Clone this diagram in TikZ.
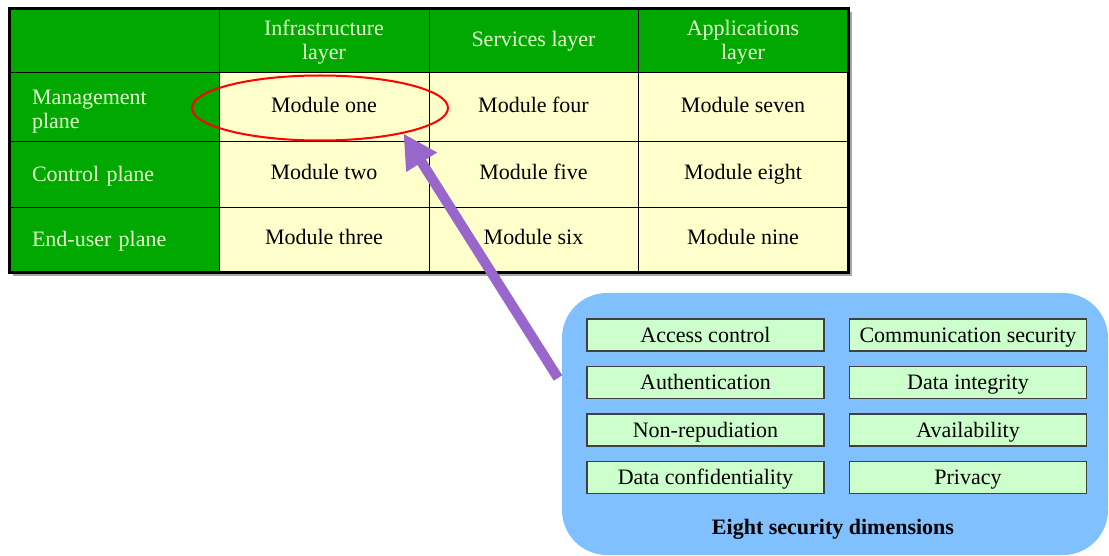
\documentclass[tikz,border=0pt]{standalone}
\usepackage{fontspec}
\setmainfont{Liberation Serif}
\usetikzlibrary{shapes.geometric,arrows.meta}
\definecolor{tgreen}{RGB}{0,168,0}
\definecolor{tyellow}{RGB}{255,255,204}
\definecolor{hdrtext}{RGB}{232,255,210}
\definecolor{dimblue}{RGB}{128,192,255}
\definecolor{dimfill}{RGB}{204,255,204}
\definecolor{dimedge}{RGB}{64,64,64}
\definecolor{arrowpurple}{RGB}{153,102,204}
\begin{document}
\begin{tikzpicture}[x=1pt,y=-1pt,
  every node/.style={font=\fontsize{22}{24}\selectfont},
  hdrcell/.style={rectangle, draw=black, line width=1pt, fill=tgreen, text=hdrtext, align=center, inner sep=0pt},
  onehdr/.style={text height=16pt, text depth=4pt},
  rowcell/.style={rectangle, draw=black, line width=1pt, fill=tgreen, text=hdrtext, align=left, text width=165pt, inner xsep=22pt, inner ysep=0pt},
  onerow/.style={text height=16pt, text depth=2pt},
  rowlabel/.style={text=hdrtext, align=left, text width=165pt, inner sep=0pt},
  datacell/.style={rectangle, draw=black, line width=1pt, fill=tyellow, text=black, align=center, inner sep=0pt, text height=15pt, text depth=5pt},
  dimbox/.style={rectangle, draw=dimedge, line width=1.5pt, fill=dimfill, minimum width=237pt, minimum height=32pt, inner sep=0pt, text height=16pt, text depth=2pt},
  hilite/.style={ellipse, draw=red, line width=2pt, minimum width=256pt, minimum height=65pt, inner sep=0pt},
  bigarrow/.style={draw=arrowpurple, line width=10pt, -{Triangle[length=34pt,width=34pt]}}
]
\useasboundingbox (0,0) rectangle (1109,556);

% header row
\node[hdrcell, minimum width=209pt, minimum height=64pt] (h0) at (114.5,41) {};
\node[hdrcell, minimum width=210pt, minimum height=64pt] (h1) at (324,42) {Infrastructure\\layer};
\node[hdrcell, minimum width=209pt, minimum height=64pt, onehdr] (h2) at (533.5,41) {Services layer};
\node[hdrcell, minimum width=210pt, minimum height=64pt] (h3) at (743,42) {Applications\\layer};

% row labels
\node[rowcell, minimum height=69pt] (r1) at (114.5,107.5) {};
\node[rowlabel, yshift=-4pt] (r1t) at (r1) {Management\\plane};
\node[rowcell, minimum height=66pt, onerow] (r2) at (114.5,175) {Control plane};
\node[rowcell, minimum height=64pt, onerow] (r3) at (114.5,240) {End-user plane};

% data cells
\node[datacell, minimum width=210pt, minimum height=69pt] (m1) at (324,107.5) {Module one};
\node[datacell, minimum width=209pt, minimum height=69pt] (m4) at (533.5,107.5) {Module four};
\node[datacell, minimum width=210pt, minimum height=69pt] (m7) at (743,107.5) {Module seven};
\node[datacell, minimum width=210pt, minimum height=66pt] (m2) at (324,175) {Module two};
\node[datacell, minimum width=209pt, minimum height=66pt] (m5) at (533.5,175) {Module five};
\node[datacell, minimum width=210pt, minimum height=66pt] (m8) at (743,175) {Module eight};
\node[datacell, minimum width=210pt, minimum height=64pt] (m3) at (324,240) {Module three};
\node[datacell, minimum width=209pt, minimum height=64pt] (m6) at (533.5,240) {Module six};
\node[datacell, minimum width=210pt, minimum height=64pt] (m9) at (743,240) {Module nine};

% outer frame with light shadow
\draw[black!35, line width=2pt] ([xshift=2.5pt,yshift=-3pt]h3.north east) -- ([xshift=2.5pt,yshift=-2.5pt]m9.south east) -- ([xshift=3pt,yshift=-2.5pt]r3.south west);
\draw[line width=3pt] (h0.north west) rectangle (m9.south east);

% highlight ellipse
\node[hilite] (ell) at (320,108) {};

% arrow
\coordinate (tail) at (558,378);
\draw[bigarrow] (tail) -- (ell.-17);

% security dimensions box
\node[rectangle, rounded corners=45pt, fill=dimblue, minimum width=546pt, minimum height=262pt, inner sep=0pt] (dims) at (835,424) {};
\node[dimbox] (d1) at (705.5,335) {Access control};
\node[dimbox] (d2) at (705.5,382.5) {Authentication};
\node[dimbox] (d3) at (705.5,430) {Non-repudiation};
\node[dimbox] (d4) at (705.5,477.5) {Data confidentiality};
\node[dimbox] (d5) at (968,335) {Communication security};
\node[dimbox] (d6) at (968,382.5) {Data integrity};
\node[dimbox] (d7) at (968,430) {Availability};
\node[dimbox] (d8) at (968,477.5) {Privacy};
\node[font=\fontsize{22}{24}\selectfont\bfseries, anchor=base, inner sep=0pt] (dtitle) at (833,534) {Eight security dimensions};
\end{tikzpicture}
\end{document}
